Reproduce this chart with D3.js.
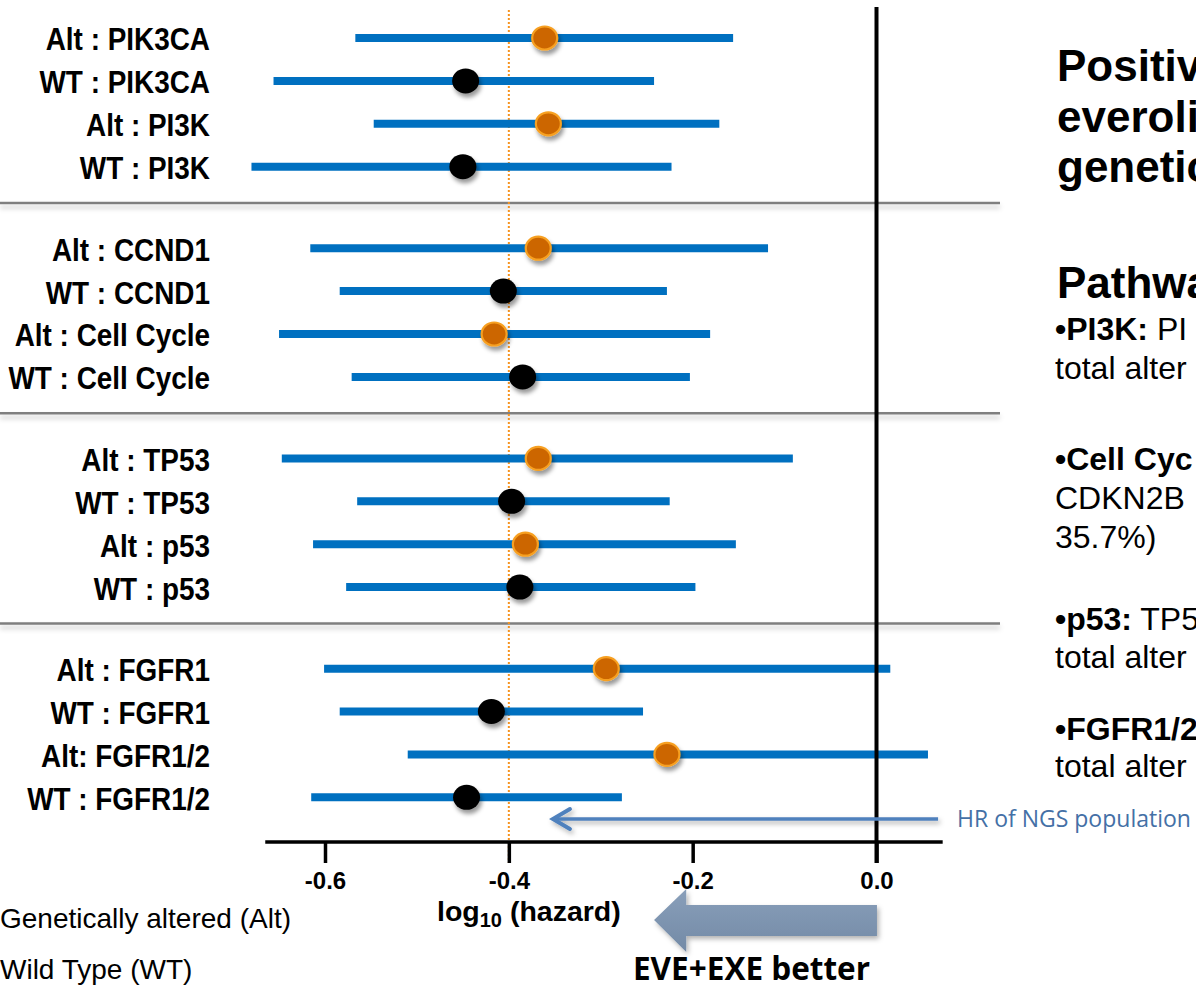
<!DOCTYPE html>
<html>
<head>
<meta charset="utf-8">
<script src="https://cdn.jsdelivr.net/npm/d3@7/dist/d3.min.js"></script>
<style>
  html, body { margin: 0; padding: 0; background: #ffffff; overflow: hidden; }
  svg { display: block; }
</style>
</head>
<body>
<svg id="chart" width="1196" height="989"></svg>
<script>
// ---------------- data ----------------
const labels = ["Alt : PIK3CA", "WT : PIK3CA", "Alt : PI3K", "WT : PI3K",
                "Alt : CCND1", "WT : CCND1", "Alt : Cell Cycle", "WT : Cell Cycle",
                "Alt : TP53", "WT : TP53", "Alt : p53", "WT : p53",
                "Alt : FGFR1", "WT : FGFR1", "Alt: FGFR1/2", "WT : FGFR1/2"];
const groups = [0, 0, 0, 0, 1, 1, 1, 1, 2, 2, 2, 2, 3, 3, 3, 3];
const status = ["Alt", "WT", "Alt", "WT", "Alt", "WT", "Alt", "WT",
                "Alt", "WT", "Alt", "WT", "Alt", "WT", "Alt", "WT"];
const estimate = [-0.361, -0.447, -0.357, -0.450,
                  -0.368, -0.406, -0.416, -0.385,
                  -0.368, -0.397, -0.382, -0.388,
                  -0.294, -0.419, -0.228, -0.446];
const lower = [-0.567, -0.656, -0.547, -0.680,
               -0.616, -0.584, -0.650, -0.571,
               -0.647, -0.565, -0.613, -0.577,
               -0.601, -0.584, -0.510, -0.615];
const upper = [-0.156, -0.242, -0.171, -0.223,
               -0.118, -0.228, -0.181, -0.203,
               -0.091, -0.225, -0.153, -0.197,
                0.015, -0.254,  0.056, -0.277];
const xTicks = [-0.6, -0.4, -0.2, 0.0];
const referenceHR = -0.4;      // dotted orange line
const ngsHR = -0.352;          // "HR of NGS population" arrow tip
const legendTexts = ["Genetically altered (Alt)", "Wild Type (WT)"];
const titleLines = ["Positiv", "everoli", "genetic"];
const headingText = "Pathwa";
const bodyLines = [
  {b: "\u2022PI3K:", n: " PI"}, {b: "", n: "total alter"},
  {b: "\u2022Cell Cyc", n: ""}, {b: "", n: "CDKN2B"}, {b: "", n: "35.7%)"},
  {b: "\u2022p53:", n: " TP5"}, {b: "", n: "total alter"},
  {b: "\u2022FGFR1/2", n: ""}, {b: "", n: "total alter"}
];
const bodyBaselines = [340, 379, 470, 509, 548, 630, 668, 740, 777];

// ---------------- layout ----------------
const svg = d3.select("#chart");
const x = d3.scaleLinear().domain([-0.6, 0]).range([325, 876.5]);
const slot = (i) => i + 0.9 * groups[i];
const y = d3.scaleLinear().domain([0, 1]).range([38, 80.9]);
const axisY = 842;

const defs = svg.append("defs");
const f1 = defs.append("filter").attr("id", "dot-shadow")
  .attr("x", "-50%").attr("y", "-50%").attr("width", "200%").attr("height", "200%");
f1.append("feDropShadow").attr("dx", 2).attr("dy", 4).attr("stdDeviation", 2.2)
  .attr("flood-color", "#000").attr("flood-opacity", 0.4);
const f2 = defs.append("filter").attr("id", "line-shadow")
  .attr("filterUnits", "userSpaceOnUse")
  .attr("x", 0).attr("y", 0).attr("width", 1196).attr("height", 989);
f2.append("feDropShadow").attr("dx", 0).attr("dy", 4).attr("stdDeviation", 2.5)
  .attr("flood-color", "#000").attr("flood-opacity", 0.22);
const f3 = defs.append("filter").attr("id", "arrow-shadow")
  .attr("filterUnits", "userSpaceOnUse")
  .attr("x", 0).attr("y", 0).attr("width", 1196).attr("height", 989);
f3.append("feDropShadow").attr("dx", 2).attr("dy", 3).attr("stdDeviation", 2.5)
  .attr("flood-color", "#000").attr("flood-opacity", 0.3);
const grad = defs.append("linearGradient").attr("id", "bigArrowGrad")
  .attr("x1", 0).attr("y1", 0).attr("x2", 0).attr("y2", 1);
grad.append("stop").attr("offset", "0%").attr("stop-color", "#899fba");
grad.append("stop").attr("offset", "100%").attr("stop-color", "#738aa6");

// group separators
const nGroups = d3.max(groups) + 1;
const sepIdx = [];
for (let g = 0; g < nGroups - 1; g++) {
  const last = d3.max(d3.range(labels.length).filter(i => groups[i] === g));
  sepIdx.push(slot(last) + 0.846);
}
svg.append("g").attr("filter", "url(#line-shadow)")
  .selectAll("line").data(sepIdx).join("line")
  .attr("x1", 0).attr("x2", 1000)
  .attr("y1", d => y(d)).attr("y2", d => y(d))
  .attr("stroke", "#7f7f7f").attr("stroke-width", 2.5);

// reference dotted line
svg.append("line")
  .attr("x1", x(referenceHR)).attr("x2", x(referenceHR))
  .attr("y1", 10).attr("y2", axisY + 21)
  .attr("stroke", "#f7931e").attr("stroke-width", 2)
  .attr("stroke-dasharray", "2,2");

// CI bars
svg.append("g").selectAll("line").data(d3.range(labels.length)).join("line")
  .attr("x1", i => x(lower[i])).attr("x2", i => x(upper[i]))
  .attr("y1", i => y(slot(i))).attr("y2", i => y(slot(i)))
  .attr("stroke", "#0070c0").attr("stroke-width", 8);

// zero line
svg.append("line")
  .attr("x1", x(0)).attr("x2", x(0))
  .attr("y1", 7).attr("y2", axisY + 21)
  .attr("stroke", "#000").attr("stroke-width", 4);

// point estimates
svg.append("g").selectAll("ellipse").data(d3.range(labels.length)).join("ellipse")
  .attr("cx", i => x(estimate[i])).attr("cy", i => y(slot(i)))
  .attr("rx", i => status[i] === "Alt" ? 12.5 : 13.5)
  .attr("ry", i => status[i] === "Alt" ? 11.5 : 12.5)
  .attr("fill", i => status[i] === "Alt" ? "#cc6600" : "#000000")
  .attr("stroke", i => status[i] === "Alt" ? "#f7a020" : "none")
  .attr("stroke-width", 2.2)
  .attr("filter", "url(#dot-shadow)");

// row labels
const labScale = 0.9;
const labG = svg.append("g").attr("transform", `scale(${labScale},1)`);
labG.selectAll("text").data(d3.range(labels.length)).join("text")
  .attr("x", 210 / labScale).attr("y", i => y(slot(i)) + 12.5)
  .attr("text-anchor", "end")
  .attr("font-family", "'Liberation Sans', Arial, sans-serif")
  .attr("font-weight", "bold").attr("font-size", 31)
  .attr("fill", "#000")
  .text(i => labels[i]);

// x axis
svg.append("line")
  .attr("x1", x(-0.665)).attr("x2", x(0.072))
  .attr("y1", axisY).attr("y2", axisY)
  .attr("stroke", "#000").attr("stroke-width", 3.5);
const axisG = svg.append("g").attr("transform", `translate(0,${axisY})`)
  .call(d3.axisBottom(x).tickValues(xTicks).tickSize(21).tickPadding(26)
        .tickFormat(d => d.toFixed(1)));
axisG.select(".domain").remove();
axisG.selectAll(".tick line").attr("stroke", "#000").attr("stroke-width", 3.5);
axisG.selectAll(".tick text")
  .attr("font-family", "'Liberation Sans', Arial, sans-serif")
  .attr("font-weight", "bold").attr("font-size", 24).attr("fill", "#000")
  .attr("dy", 0).attr("y", 47);

// axis title
const at = svg.append("text")
  .attr("x", 437).attr("y", 921)
  .attr("font-family", "'Liberation Sans', Arial, sans-serif")
  .attr("font-weight", "bold").attr("font-size", 28.5).attr("fill", "#000");
at.append("tspan").text("log");
at.append("tspan").attr("font-size", 20).attr("dy", 6).text("10");
at.append("tspan").attr("dy", -6).text(" (hazard)");

// HR of NGS population arrow
const hrY = 819;
const hrG = svg.append("g").attr("filter", "url(#arrow-shadow)");
hrG.append("line")
  .attr("x1", x(0.067)).attr("x2", x(ngsHR) + 2)
  .attr("y1", hrY).attr("y2", hrY)
  .attr("stroke", "#4f81bd").attr("stroke-width", 3.5);
hrG.append("path")
  .attr("d", `M${x(ngsHR) + 17},${hrY - 10} L${x(ngsHR)},${hrY} L${x(ngsHR) + 17},${hrY + 10}`)
  .attr("fill", "none").attr("stroke", "#4f81bd").attr("stroke-width", 4)
  .attr("stroke-linecap", "round").attr("stroke-linejoin", "miter");
svg.append("text")
  .attr("x", 957).attr("y", hrY + 8)
  .attr("font-family", "'Open Sans', sans-serif")
  .attr("font-size", 23).attr("fill", "#4470a6")
  .text("HR of NGS population");

// big "better" arrow
const tipX = x(-0.242), baseX = x(-0.207), endX = x(0.0005);
svg.append("path")
  .attr("d", `M${tipX},920 L${baseX},889 L${baseX},905 L${endX},905 L${endX},936 L${baseX},936 L${baseX},952 Z`)
  .attr("fill", "url(#bigArrowGrad)")
  .attr("filter", "url(#arrow-shadow)");
svg.append("text")
  .attr("x", (tipX + endX) / 2 - 14).attr("y", 980)
  .attr("text-anchor", "middle")
  .attr("font-family", "'Open Sans', sans-serif")
  .attr("font-weight", "bold").attr("font-size", 31.5).attr("fill", "#000")
  .text("EVE+EXE better");

// legend texts (markers are outside the frame)
svg.append("g").selectAll("text").data(legendTexts).join("text")
  .attr("x", 0).attr("y", (d, i) => 928 + i * 51)
  .attr("font-family", "'Liberation Sans', Arial, sans-serif")
  .attr("font-size", 28).attr("fill", "#000")
  .text(d => d);

// right-hand text panel
const panel = svg.append("g")
  .attr("font-family", "'Liberation Sans', Arial, sans-serif").attr("fill", "#000");
panel.selectAll("text.title").data(titleLines).join("text")
  .attr("class", "title")
  .attr("x", 1057).attr("y", (d, i) => 81 + i * 50.5)
  .attr("font-weight", "bold").attr("font-size", 44)
  .text(d => d);
panel.append("text")
  .attr("x", 1057).attr("y", 298)
  .attr("font-weight", "bold").attr("font-size", 44)
  .text(headingText);
const bt = panel.selectAll("text.body").data(bodyLines).join("text")
  .attr("class", "body")
  .attr("x", 1055).attr("y", (d, i) => bodyBaselines[i])
  .attr("font-size", 32);
bt.append("tspan").attr("font-weight", "bold").text(d => d.b);
bt.append("tspan").text(d => d.n);
</script>
</body>
</html>
